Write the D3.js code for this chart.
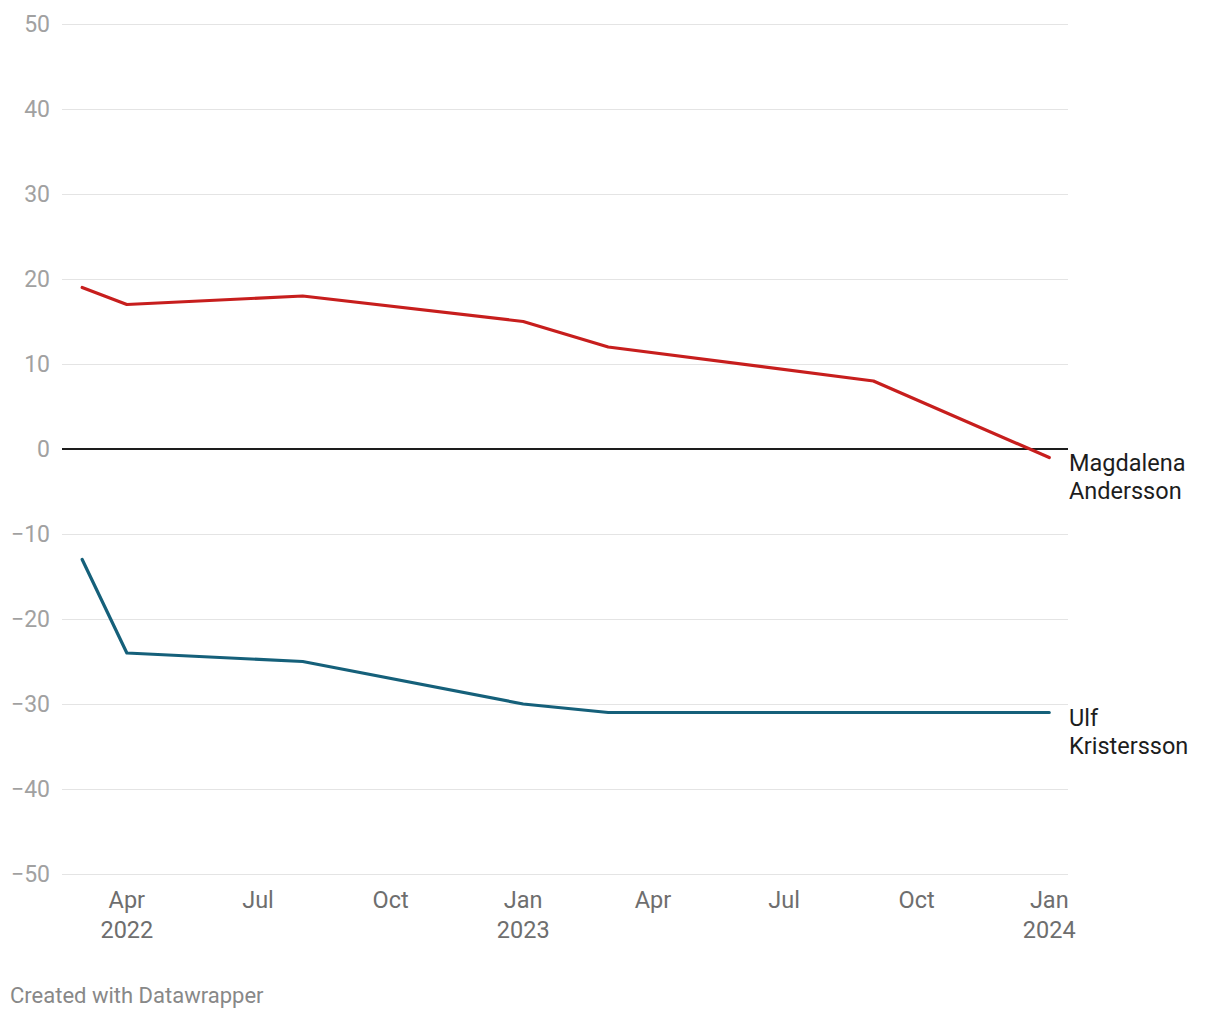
<!DOCTYPE html>
<html>
<head>
<meta charset="utf-8">
<script src="https://cdn.jsdelivr.net/npm/d3@7"></script>
<style>
  body { margin: 0; background: #fff; font-family: Roboto, "Noto Sans", sans-serif; }
</style>
</head>
<body>
<div id="chart"></div>
<script>
// data
var dates = ["2022-03-01", "2022-04-01", "2022-08-01", "2023-01-01", "2023-03-01", "2023-09-01", "2024-01-01"];
var andersson = [19, 17, 18, 15, 12, 8, -1];
var kristersson = [-13, -24, -25, -30, -31, -31, -31];
var yTicks = [50, 40, 30, 20, 10, 0, -10, -20, -30, -40, -50];
var xTickDates = ["2022-04-01", "2022-07-01", "2022-10-01", "2023-01-01", "2023-04-01", "2023-07-01", "2023-10-01", "2024-01-01"];

var parse = d3.timeParse("%Y-%m-%d");

var width = 1220, height = 1020;
var margin = {top: 24, right: 152, bottom: 146, left: 62};

var svg = d3.select("#chart")
  .append("svg")
    .attr("width", width)
    .attr("height", height);

var x = d3.scaleTime()
  .domain([parse("2022-02-15"), parse("2024-01-14")])
  .range([margin.left, width - margin.right]);

var y = d3.scaleLinear()
  .domain([-50, 50])
  .range([height - margin.bottom, margin.top]);

// grid lines
svg.append("g")
  .selectAll("line")
  .data(yTicks)
  .enter()
  .append("line")
    .attr("x1", margin.left)
    .attr("x2", width - margin.right)
    .attr("y1", function(d) { return y(d); })
    .attr("y2", function(d) { return y(d); })
    .attr("stroke", function(d) { return d === 0 ? "#1d1d1d" : "#e4e4e4"; })
    .attr("stroke-width", function(d) { return d === 0 ? 1.4 : 1; })
    .attr("shape-rendering", "crispEdges");

// y labels
svg.append("g")
  .selectAll("text")
  .data(yTicks)
  .enter()
  .append("text")
    .attr("x", 50)
    .attr("y", function(d) { return y(d); })
    .attr("dy", "0.35em")
    .attr("text-anchor", "end")
    .attr("fill", "#a1a1a1")
    .style("font-size", "23px")
    .text(function(d) { return d < 0 ? "\u2212" + Math.abs(d) : d; });

// x labels
var monthFmt = d3.timeFormat("%b");
var xl = svg.append("g")
  .selectAll("text")
  .data(xTickDates.map(parse))
  .enter()
  .append("text")
    .attr("x", function(d) { return x(d); })
    .attr("y", 908)
    .attr("text-anchor", "middle")
    .attr("fill", "#6e6e6e")
    .style("font-size", "23.5px");
xl.append("tspan")
  .attr("x", function(d) { return x(d); })
  .text(function(d) { return monthFmt(d); });
xl.filter(function(d) { return d.getMonth() === 0 || (d.getMonth() === 3 && d.getFullYear() === 2022); })
  .append("tspan")
  .attr("x", function(d) { return x(d); })
  .attr("dy", 30)
  .text(function(d) { return d.getFullYear(); });

// lines
var series = [
  {name: ["Magdalena", "Andersson"], values: andersson, color: "#c71e1d"},
  {name: ["Ulf", "Kristersson"], values: kristersson, color: "#15607a"}
];

var line = d3.line()
  .x(function(d) { return x(d.date); })
  .y(function(d) { return y(d.value); });

series.forEach(function(s) {
  var pts = dates.map(function(d, i) { return {date: parse(d), value: s.values[i]}; });
  svg.append("path")
    .datum(pts)
    .attr("d", line)
    .attr("fill", "none")
    .attr("stroke", s.color)
    .attr("stroke-width", 3.2)
    .attr("stroke-linecap", "round")
    .attr("stroke-linejoin", "round");

  var last = pts[pts.length - 1];
  var t = svg.append("text")
    .attr("x", width - margin.right + 1)
    .attr("y", y(last.value) + 13)
    .attr("fill", "#1d1d1d")
    .style("font-size", "23.5px");
  s.name.forEach(function(n, i) {
    t.append("tspan")
      .attr("x", width - margin.right + 1)
      .attr("dy", i === 0 ? 0 : 28.5)
      .text(n);
  });
});

// footer
svg.append("text")
  .attr("x", 10)
  .attr("y", 1003)
  .attr("fill", "#888")
  .style("font-size", "22px")
  .text("Created with Datawrapper");
</script>
</body>
</html>
